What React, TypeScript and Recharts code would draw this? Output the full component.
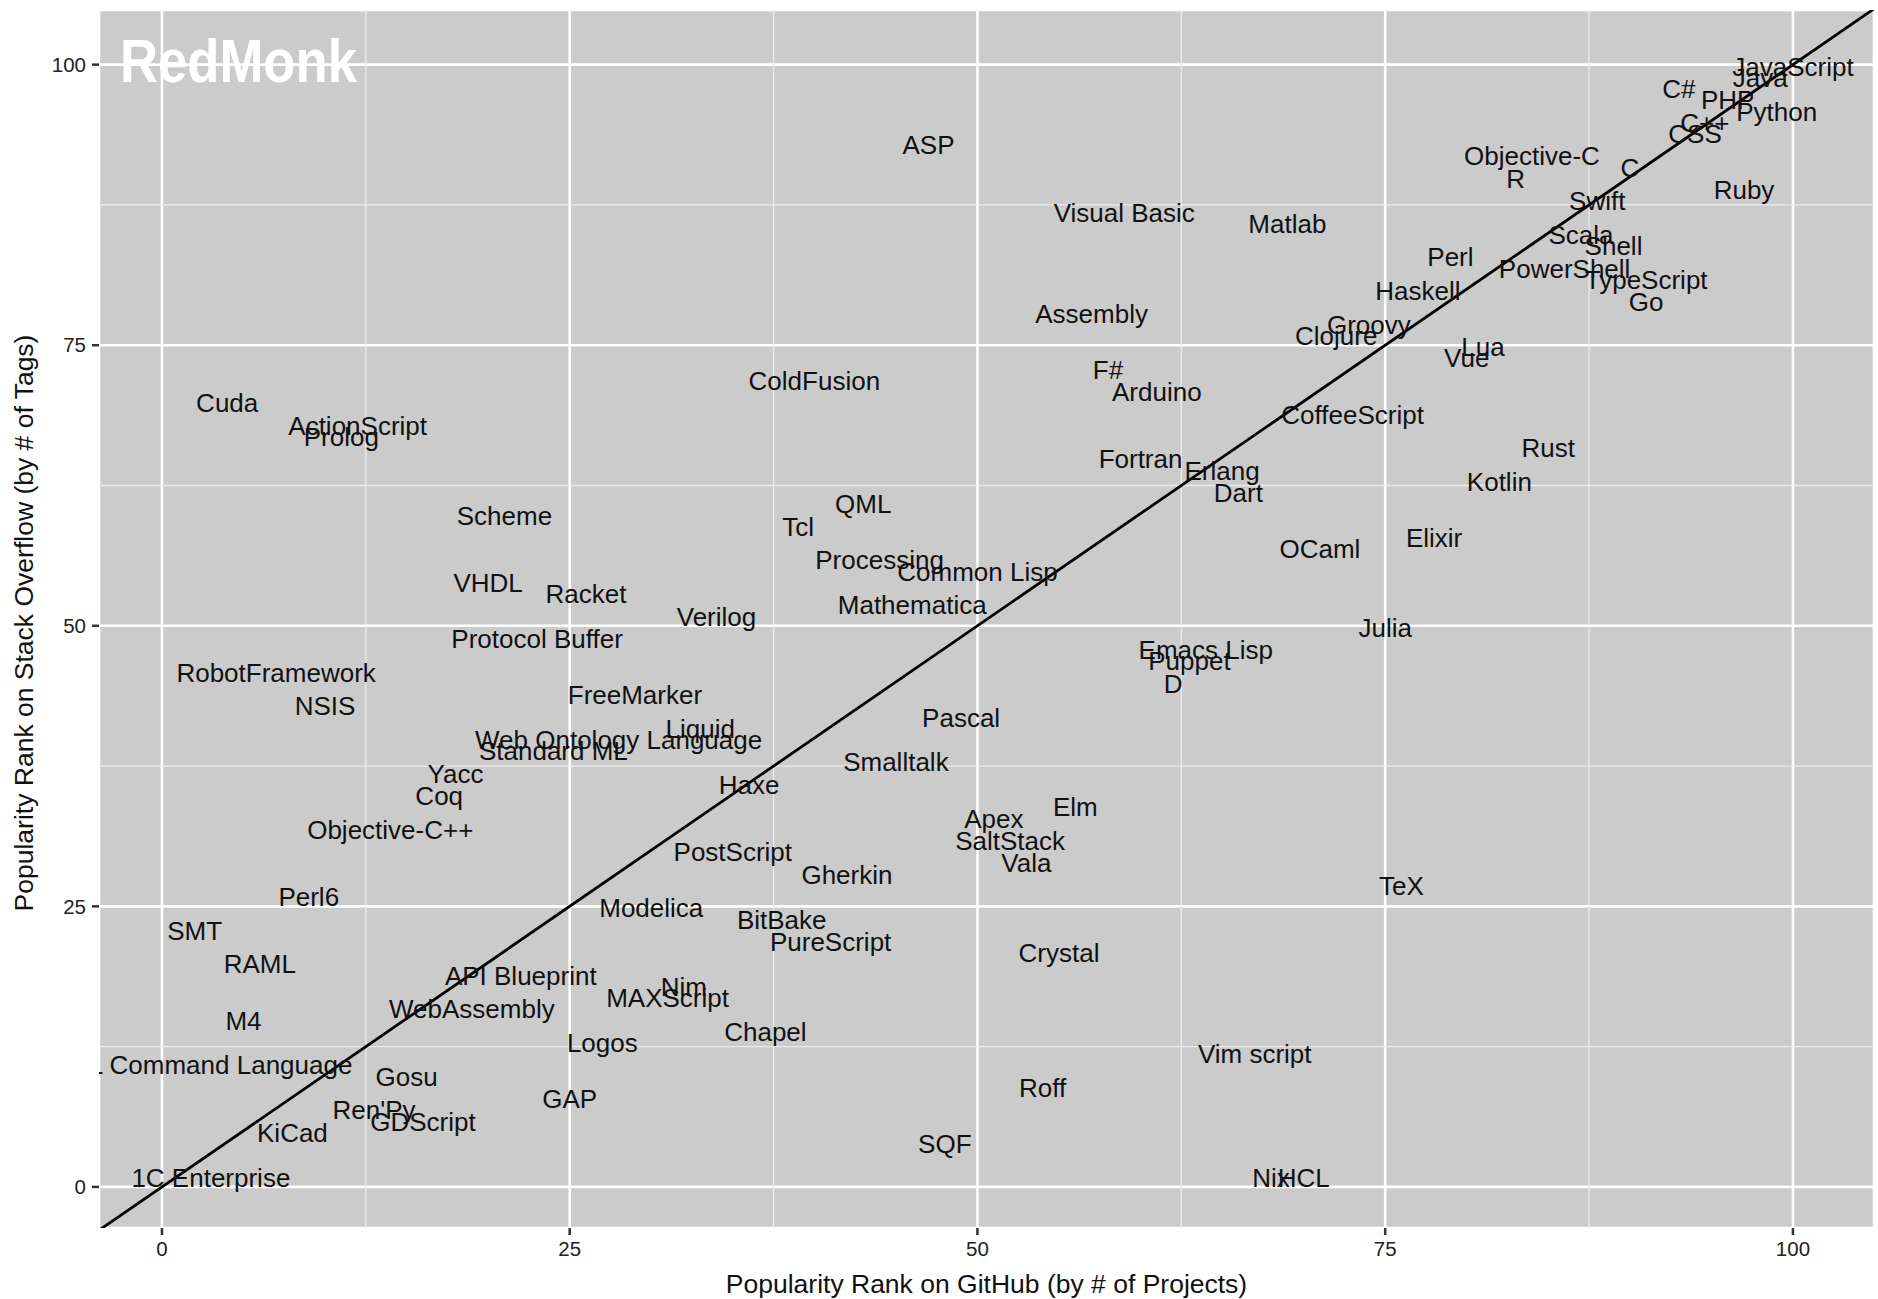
import React from 'react';
import {
  ScatterChart,
  Scatter,
  XAxis,
  YAxis,
  CartesianGrid,
  ReferenceLine,
  Customized,
} from 'recharts';

// Language names with their GitHub rank (x) and Stack Overflow rank (y)
const languages = [
  'JavaScript', 'Java', 'Python', 'PHP', 'C#', 'C++', 'CSS', 'C', 'Objective-C', 'R',
  'Ruby', 'Swift', 'Scala', 'Shell', 'Perl', 'PowerShell', 'TypeScript', 'Haskell', 'Go', 'Groovy',
  'Clojure', 'Lua', 'Vue', 'CoffeeScript', 'Rust', 'Kotlin', 'Elixir', 'OCaml', 'Julia', 'Matlab',
  'Visual Basic', 'ASP', 'Assembly', 'F#', 'Arduino', 'ColdFusion', 'Fortran', 'Erlang', 'Dart', 'Common Lisp',
  'Processing', 'QML', 'Tcl', 'Mathematica', 'Emacs Lisp', 'Puppet', 'D', 'Verilog', 'Pascal', 'Smalltalk',
  'Liquid', 'Web Ontology Language', 'Standard ML', 'FreeMarker', 'Haxe', 'Elm', 'Apex', 'SaltStack', 'Vala', 'TeX',
  'PostScript', 'Gherkin', 'Modelica', 'BitBake', 'PureScript', 'Crystal', 'API Blueprint', 'Nim', 'MAXScript', 'WebAssembly',
  'Chapel', 'Logos', 'Vim script', 'Gosu', 'DIGITAL Command Language', "Ren'Py", 'GDScript', 'GAP', 'KiCad', 'Roff',
  'SQF', '1C Enterprise', 'Nix', 'HCL', 'Cuda', 'ActionScript', 'Prolog', 'Scheme', 'VHDL', 'Racket',
  'Protocol Buffer', 'RobotFramework', 'NSIS', 'Yacc', 'Coq', 'Objective-C++', 'Perl6', 'SMT', 'RAML', 'M4',
];

const githubRank = [
  100, 98, 99, 96, 93, 94.6, 94, 90, 84, 83,
  97, 88, 87, 89, 79, 86, 91, 77, 91, 74,
  72, 81, 80, 73, 85, 82, 78, 71, 75, 69,
  59, 47, 57, 58, 61, 40, 60, 65, 66, 50,
  44, 43, 39, 46, 64, 63, 62, 34, 49, 45,
  33, 28, 24, 29, 36, 56, 51, 52, 53, 76,
  35, 42, 30, 38, 41, 55, 22, 32, 31, 19,
  37, 27, 67, 15, 1, 13, 16, 25, 8, 54,
  48, 3, 68, 70, 4, 12, 11, 21, 20, 26,
  23, 7, 10, 18, 17, 14, 9, 2, 6, 5,
];

const stackRank = [
  100, 99, 96, 97, 98, 95, 94, 91, 92, 90,
  89, 88, 85, 84, 83, 82, 81, 80, 79, 77,
  76, 75, 74, 69, 66, 63, 58, 57, 50, 86,
  87, 93, 78, 73, 71, 72, 65, 64, 62, 55,
  56, 61, 59, 52, 48, 47, 45, 51, 42, 38,
  41, 40, 39, 44, 36, 34, 33, 31, 29, 27,
  30, 28, 25, 24, 22, 21, 19, 18, 17, 16,
  14, 13, 12, 10, 11, 7, 6, 8, 5, 9,
  4, 1, 1, 1, 70, 68, 67, 60, 54, 53,
  49, 46, 43, 37, 35, 32, 26, 23, 20, 15,
];

const xTicks = [0, 25, 50, 75, 100];
const yTicks = [0, 25, 50, 75, 100];
const minorBreaks = [12.5, 37.5, 62.5, 87.5];
const xDomain = [-3.86, 104.97];
const yDomain = [-3.66, 104.87];

const xTitle = 'Popularity Rank on GitHub (by # of Projects)';
const yTitle = 'Popularity Rank on Stack Overflow (by # of Tags)';
const brand = 'RedMonk';

const data = languages.map((name, i) => ({ name, x: githubRank[i], y: stackRank[i] }));

const FONT = '"Liberation Sans", Arial, Helvetica, sans-serif';

const LabelShape = (props: any) => {
  const { cx, cy, payload } = props;
  return (
    <text
      x={cx}
      y={cy + 2}
      textAnchor="middle"
      dominantBaseline="central"
      fontFamily={FONT}
      fontSize={26}
      fill="#111"
    >
      {payload.name}
    </text>
  );
};

const XTitle = (props: any) => {
  const vb = props.viewBox || {};
  return (
    <text
      x={vb.x + vb.width / 2}
      y={vb.y + 56}
      textAnchor="middle"
      dominantBaseline="central"
      fontFamily={FONT}
      fontSize={26.5}
      fill="#111"
    >
      {xTitle}
    </text>
  );
};

const YTitle = (props: any) => {
  const vb = props.viewBox || {};
  const x = vb.x + 24;
  const y = vb.y + vb.height / 2 + 4;
  return (
    <text
      x={x}
      y={y}
      transform={`rotate(-90 ${x} ${y})`}
      textAnchor="middle"
      dominantBaseline="central"
      fontFamily={FONT}
      fontSize={26.5}
      fill="#111"
    >
      {yTitle}
    </text>
  );
};

const Brand = (props: any) => {
  const off = props.offset || { left: 99, top: 10 };
  return (
    <text
      x={off.left + 21}
      y={off.top + 72}
      fontFamily={FONT}
      fontWeight="bold"
      fontSize={61}
      fill="#ffffff"
      textLength={237}
      lengthAdjust="spacingAndGlyphs"
    >
      {brand}
    </text>
  );
};

export default function App() {
  return (
    <div style={{ position: 'absolute', left: 0, top: 0, background: '#fff' }}>
      <ScatterChart
        width={1878}
        height={1299}
        margin={{ top: 10, right: 4, left: 0, bottom: 0 }}
      >
        <CartesianGrid
          fill="#cbcbcb"
          fillOpacity={1}
          stroke="#ffffff"
          strokeWidth={2.6}
        />
        {minorBreaks.map((v) => (
          <ReferenceLine key={'mx' + v} x={v} stroke="#ebebeb" strokeWidth={1.3} />
        ))}
        {minorBreaks.map((v) => (
          <ReferenceLine key={'my' + v} y={v} stroke="#ebebeb" strokeWidth={1.3} />
        ))}
        <XAxis
          type="number"
          dataKey="x"
          domain={xDomain}
          allowDataOverflow
          ticks={xTicks}
          height={71}
          axisLine={false}
          tickSize={7}
          tickMargin={6}
          tickLine={{ stroke: '#333', strokeWidth: 2.5 }}
          tick={{ fontFamily: FONT, fontSize: 20.5, fill: '#222' }}
          label={<XTitle />}
        />
        <YAxis
          type="number"
          dataKey="y"
          domain={yDomain}
          allowDataOverflow
          ticks={yTicks}
          width={99}
          axisLine={false}
          tickSize={7}
          tickMargin={6}
          tickLine={{ stroke: '#333', strokeWidth: 2.5 }}
          tick={{ fontFamily: FONT, fontSize: 20.5, fill: '#222' }}
          label={<YTitle />}
        />
        <ReferenceLine
          segment={[{ x: -10, y: -10 }, { x: 110, y: 110 }]}
          stroke="#000"
          strokeWidth={2.8}
          ifOverflow="hidden"
        />
        <Scatter data={data} shape={<LabelShape />} isAnimationActive={false} />
        <Customized component={Brand} />
      </ScatterChart>
    </div>
  );
}
